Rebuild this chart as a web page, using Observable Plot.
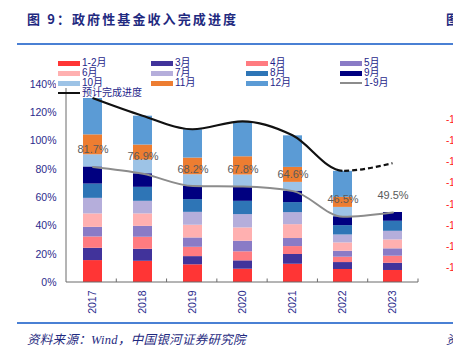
<!DOCTYPE html>
<html>
<head>
<meta charset="utf-8">
<script src="https://cdn.jsdelivr.net/npm/d3@7"></script>
<script src="https://cdn.jsdelivr.net/npm/@observablehq/plot@0.6"></script>
<style>
  html, body { margin: 0; padding: 0; background: #fff; }
  #wrap { position: relative; width: 453px; height: 354px; overflow: hidden; background: #fff; }
  #chart { position: absolute; left: 0; top: 0; }
  .ov { position: absolute; white-space: nowrap; }
  .title { font-family: "Noto Sans CJK SC", sans-serif; font-weight: bold; font-size: 13px; color: #1f2a80; letter-spacing: 2.1px; }
  .foot { font-family: "Liberation Serif", "Noto Sans CJK SC", serif; font-style: italic; font-size: 12.5px; color: #1f2a80; letter-spacing: 0.3px; }
  .rule { position: absolute; height: 2px; background: #4a80d4; }
  .lg { font-family: "Liberation Sans", "Noto Sans CJK SC", sans-serif; font-size: 10px; color: #1f1f8a; line-height: 10px; }
  .sw { position: absolute; height: 5px; width: 22px; }
  .red { font-family: "Liberation Sans", sans-serif; font-size: 10px; color: #ff2020; }
</style>
</head>
<body>
<div id="wrap">
  <div id="chart"></div>
</div>
<script>
// ---------- data ----------
const years = ["2017", "2018", "2019", "2020", "2021", "2022", "2023"];
const months = ["1-2月", "3月", "4月", "5月", "6月", "7月", "8月", "9月", "10月", "11月", "12月"];
const monthColors = ["#ff3535", "#41339b", "#ff7b80", "#8a7bc6", "#ffb0b0", "#b5aedb", "#2e75b6", "#000080", "#9dc3e6", "#ed7d31", "#5b9bd5"];
// cumulative completion progress (%) at the end of each month
const cum2017 = [15.5, 24.2, 32.2, 39.0, 48.5, 59.5, 69.6, 81.7, 90.3, 104.4, 130.1];
const cum2018 = [15.0, 23.5, 32.0, 39.7, 48.5, 57.4, 67.3, 76.9, 86.6, 97.2, 117.6];
const cum2019 = [12.5, 18.3, 24.9, 31.5, 40.5, 49.6, 58.6, 68.2, 76.2, 88.0, 108.0];
const cum2020 = [9.4, 15.3, 21.7, 29.2, 38.6, 48.0, 57.4, 67.8, 76.0, 88.9, 113.6];
const cum2021 = [12.9, 19.8, 25.4, 31.1, 40.9, 49.4, 56.5, 64.6, 70.8, 81.4, 103.7];
const cum2022 = [9.2, 14.1, 17.9, 22.1, 28.0, 33.6, 40.2, 46.5, 53.1, 60.2, 78.6];
const cum2023 = [8.5, 13.6, 18.6, 23.8, 30.1, 36.2, 43.3, 49.5];
const jan2sep = [81.7, 76.9, 68.2, 67.8, 64.6, 46.5, 49.5];        // 1-9月
const expected = [130.1, 117.6, 108.0, 113.6, 103.7, 78.6, 84.0];   // 预计完成进度
const yTicks = [0, 20, 40, 60, 80, 100, 120, 140];

// ---------- tables ----------
const cumByYear = [cum2017, cum2018, cum2019, cum2020, cum2021, cum2022, cum2023];
const bars = [];
cumByYear.forEach((arr, yi) => {
  arr.forEach((v, mi) => {
    bars.push({year: years[yi], month: months[mi], y1: mi === 0 ? 0 : arr[mi - 1], y2: v});
  });
});
const grayLine = years.map((y, i) => ({year: y, v: jan2sep[i]}));
const blackLine = years.map((y, i) => ({year: y, v: expected[i]}));
const lastActual = "2022"; // solid up to here, dashed after

const navy = "#2b2b8c";

function bandCenter(scales, dims, year) {
  const x = scales.x;
  if (x && x.bandwidth) return x(year) + x.bandwidth() / 2;
  const step = (dims.width - dims.marginLeft - dims.marginRight) / years.length;
  return dims.marginLeft + (years.indexOf(year) + 0.5) * step;
}

function axesMark(index, scales, values, dims) {
  const {width, height, marginLeft, marginRight, marginTop, marginBottom} = dims;
  const y0 = height - marginBottom;
  const x1 = width - marginRight;
  const g = d3.create("svg:g").attr("stroke", "#6b6b6b").attr("stroke-width", 1);
  g.append("line").attr("x1", marginLeft).attr("x2", marginLeft).attr("y1", marginTop).attr("y2", y0);
  g.append("line").attr("x1", marginLeft).attr("x2", x1).attr("y1", y0).attr("y2", y0);
  const n = years.length;
  const step = (x1 - marginLeft) / n;
  for (let i = 1; i <= n; i++) {
    const xx = marginLeft + i * step;
    g.append("line").attr("x1", xx).attr("x2", xx).attr("y1", y0 - 3.5).attr("y2", y0);
  }
  return g.node();
}

function expectedLine(index, scales, values, dims) {
  const pts = blackLine.map(d => [bandCenter(scales, dims, d.year), scales.y(d.v)]);
  const path = d3.line().curve(d3.curveMonotoneX)(pts);
  const split = bandCenter(scales, dims, lastActual);
  const g = d3.create("svg:g").attr("fill", "none").attr("stroke", "#111").attr("stroke-width", 2.2);
  const defs = g.append("defs");
  defs.append("clipPath").attr("id", "clipSolid").append("rect")
    .attr("x", 0).attr("y", 0).attr("width", split).attr("height", dims.height);
  defs.append("clipPath").attr("id", "clipDash").append("rect")
    .attr("x", split).attr("y", 0).attr("width", dims.width - split).attr("height", dims.height);
  g.append("path").attr("d", path).attr("clip-path", "url(#clipSolid)");
  g.append("path").attr("d", path).attr("stroke-dasharray", "5,3").attr("clip-path", "url(#clipDash)");
  return g.node();
}

const chart = Plot.plot({
  width: 453,
  height: 354,
  marginLeft: 66,
  marginRight: 35,
  marginTop: 84,
  marginBottom: 72,
  style: {fontFamily: "Liberation Sans, Arial, sans-serif", background: "transparent", overflow: "visible"},
  x: {domain: years, paddingInner: 0.62, paddingOuter: 0.31, label: null},
  y: {domain: [0, 140], label: null},
  color: {domain: months, range: monthColors},
  marks: [
    Plot.axisY({ticks: yTicks, tickSize: 0, tickPadding: 10, tickFormat: d => d + "%", fill: navy, fontSize: 10.5, label: null}),
    Plot.axisX({tickRotate: -90, tickSize: 0, tickPadding: 8, fill: navy, fontSize: 10.5, label: null}),
    Plot.rectY(bars, {x: "year", y1: "y1", y2: "y2", fill: "month"}),
    axesMark,
    Plot.line(grayLine, {x: "year", y: "v", stroke: "#8c8c8c", strokeWidth: 2, curve: "monotone-x"}),
    expectedLine,
    Plot.text(grayLine, {x: "year", y: "v", dy: -17, text: d => d.v.toFixed(1) + "%", fill: "#5a5a5a", fontSize: 11})
  ]
});
document.getElementById("chart").appendChild(chart);

// ---------- overlay: title, rules, legend, footer ----------
const wrap = document.getElementById("wrap");
function add(html) { wrap.insertAdjacentHTML("beforeend", html); }

add(`<div class="ov title" style="left:27px;top:9px;">图 9：政府性基金收入完成进度</div>`);
add(`<div class="ov title" style="left:446px;top:9px;">图</div>`);
add(`<div class="rule" style="left:17px;top:43px;width:440px;"></div>`);
add(`<div class="rule" style="left:17px;top:322px;width:440px;"></div>`);
add(`<div class="ov foot" style="left:27px;top:329px;">资料来源：Wind，中国银河证券研究院</div>`);
add(`<div class="ov foot" style="left:446px;top:329px;">资</div>`);

// right-edge fragments of the neighbouring chart's axis
[121, 142, 163, 184, 206, 227, 248, 269].forEach(t => add(`<div class="ov red" style="left:446px;top:${t - 7}px;">-1</div>`));

// legend
add(`<div class="ov" style="left:56px;top:57px;width:384px;height:31px;background:#fff;"></div>`);
const legendRows = [
  ["1-2月", "3月", "4月", "5月"],
  ["6月", "7月", "8月", "9月"],
  ["10月", "11月", "12月", "1-9月"]
];
const colSw = [58, 151, 246, 340];
const rowY = [63, 73, 83];
legendRows.forEach((row, ri) => {
  row.forEach((name, ci) => {
    const y = rowY[ri];
    const mi = months.indexOf(name);
    if (mi >= 0) {
      add(`<div class="sw" style="left:${colSw[ci]}px;top:${y - 2.5}px;background:${monthColors[mi]};"></div>`);
    } else {
      add(`<div class="sw" style="left:${colSw[ci]}px;top:${y - 1}px;height:2px;background:#8c8c8c;"></div>`);
    }
    add(`<div class="ov lg" style="left:${colSw[ci] + 24}px;top:${y - 5}px;">${name}</div>`);
  });
});
add(`<div class="sw" style="left:58px;top:92px;height:2px;background:#111;"></div>`);
add(`<div class="ov lg" style="left:82px;top:88px;">预计完成进度</div>`);
</script>
</body>
</html>
